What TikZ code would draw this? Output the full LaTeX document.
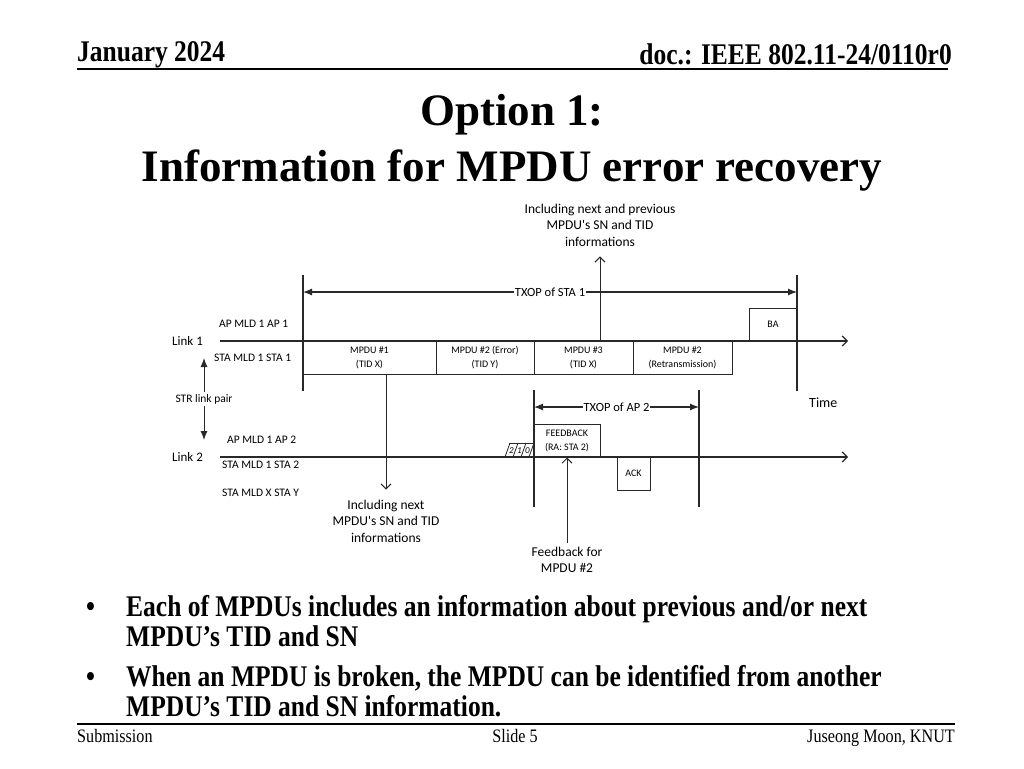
\documentclass[tikz,border=0pt]{standalone}
\usepackage{fontspec}
\setmainfont{Liberation Serif}
\newfontfamily\slidefont{Liberation Serif}[FakeStretch=0.85]
\newfontfamily\diagfont{Carlito}
\usetikzlibrary{
  arrows.meta,
  positioning,
  calc
}
\definecolor{line_gray}{RGB}{40, 40, 40}

\begin{document}
\begin{tikzpicture}[
    x=1pt, y=-1pt,
    >=Latex,
    % Styles
    hdr_text/.style={font=\slidefont\bfseries\fontsize{30}{32}\selectfont, inner sep=0pt},
    title_text/.style={font=\bfseries\fontsize{45}{54}\selectfont, anchor=base, inner sep=0pt},
    bullet_text/.style={font=\slidefont\bfseries\fontsize{30}{30}\selectfont, anchor=base west, inner sep=0pt},
    foot_text/.style={font=\slidefont\fontsize{19}{20}\selectfont, inner sep=0pt},
    rule_line/.style={line width=1.6pt},
    side_text/.style={font=\diagfont\fontsize{11.5}{13}\selectfont, anchor=west, inner sep=0pt},
    link_text/.style={font=\diagfont\fontsize{13}{15}\selectfont, anchor=west, inner sep=0pt},
    note_text/.style={font=\diagfont\fontsize{13.5}{16.5}\selectfont, align=center, inner sep=0pt},
    frame_box/.style={
        rectangle, draw=line_gray, line width=1pt, inner sep=0pt, align=center,
        minimum height=33pt, font=\diagfont\fontsize{10}{14}\selectfont
    },
    time_line/.style={draw=line_gray, line width=1.2pt, -{Straight Barb[length=5pt,width=10pt]}},
    mark_line/.style={draw=line_gray, line width=1.2pt},
    txop_arrow/.style={draw=line_gray, line width=1.2pt, {Latex[length=9pt,width=7pt]}-{Latex[length=9pt,width=7pt]}},
    note_arrow/.style={draw=line_gray, line width=1pt, -{Straight Barb[length=5pt,width=10pt]}},
    gap_label/.style={fill=white, inner sep=1pt, font=\diagfont\fontsize{12.5}{14}\selectfont},
    slot_digit/.style={font=\diagfont\itshape\fontsize{9}{10}\selectfont, inner sep=0pt}
]

\fill[white] (0,0) rectangle (1024,768);
\useasboundingbox (0,0) rectangle (1024,768);

% 1. HEADER
\node[hdr_text, anchor=base west] (date) at (77,62) {January 2024};
\node[hdr_text, anchor=base east] (docid) at (952,64) {doc.: IEEE 802.11-24/0110r0};
\draw[rule_line] (77,69) -- (948,69);

% 2. TITLE
\node[title_text] (title1) at (512,125) {Option 1:};
\node[title_text] (title2) at (512,181) {Information for MPDU error recovery};

% 3. TIME LINES
\coordinate (link1_start) at (220,341);
\coordinate (link1_end) at (848,341);
\coordinate (link2_start) at (220,457);
\coordinate (link2_end) at (848,457);

\node[side_text] (ap1) at (219,324) {AP MLD 1 AP 1};
\node[link_text] (link1) at (172,341) {Link 1};
\node[side_text] (sta1) at (214,358) {STA MLD 1 STA 1};
\node[side_text] (ap2) at (227,440) {AP MLD 1 AP 2};
\node[link_text] (link2) at (172,457) {Link 2};
\node[side_text] (sta2) at (222,465) {STA MLD 1 STA 2};
\node[side_text] (stay) at (222,493) {STA MLD X STA Y};
\node[link_text, font=\diagfont\fontsize{14}{16}\selectfont] (time) at (809,403) {Time};

% Link 1 frames
\node[frame_box, minimum width=133pt] (mpdu1) at (369.5,357.5) {MPDU \#1\\(TID X)};
\node[frame_box, minimum width=98pt] (mpdu2) at (485,357.5) {MPDU \#2 (Error)\\(TID Y)};
\node[frame_box, minimum width=99pt] (mpdu3) at (583.5,357.5) {MPDU \#3\\(TID X)};
\node[frame_box, minimum width=99pt] (mpdu2r) at (682.5,357.5) {MPDU \#2\\(Retransmission)};
\node[frame_box, minimum width=48pt] (ba) at (773,324.5) {BA};

% Link 2 frames
\node[frame_box, minimum width=66pt] (feedback) at (567,440.5) {FEEDBACK\\(RA: STA 2)};
\node[frame_box, minimum width=33pt] (ack) at (633.5,473.5) {ACK};

\draw[time_line] (link1_start) -- (link1_end);
\draw[time_line] (link2_start) -- (link2_end);

% Backoff slots
\draw[mark_line, line width=0.8pt] (509,443) -- (534,443);
\foreach \k in {0,...,3}
    \draw[mark_line, line width=0.8pt] (505+8*\k,457) -- (510+8*\k,443);
\foreach \d [count=\k from 0] in {2,1,0}
    \node[slot_digit] (slot\d) at (511.5+8*\k,450.5) {\d};

% 4. TXOP MARKERS
\coordinate (sta_txop_top) at (303,275);
\coordinate (sta_txop_bot) at (303,391);
\coordinate (sta_txop_end_top) at (797,275);
\coordinate (sta_txop_end_bot) at (797,391);
\coordinate (ap_txop_top) at (534,390);
\coordinate (ap_txop_bot) at (534,507);
\coordinate (ap_txop_end_top) at (699,390);
\coordinate (ap_txop_end_bot) at (699,507);

\draw[mark_line] (sta_txop_top) -- (sta_txop_bot);
\draw[mark_line] (sta_txop_end_top) -- (sta_txop_end_bot);
\draw[mark_line] (ap_txop_top) -- (ap_txop_bot);
\draw[mark_line] (ap_txop_end_top) -- (ap_txop_end_bot);

\draw[txop_arrow] ($(sta_txop_top)+(0,17)$) -- node[gap_label] (sta_txop) {TXOP of STA 1} ($(sta_txop_end_top)+(0,17)$);
\draw[txop_arrow] ($(ap_txop_top)+(0,17)$) -- node[gap_label] (ap_txop) {TXOP of AP 2} ($(ap_txop_end_top)+(0,17)$);

% STR link pair
\coordinate (str_top) at (204,358);
\coordinate (str_bot) at (204,440);
\draw[txop_arrow, line width=1pt] (str_top) -- node[gap_label, font=\diagfont\fontsize{11.5}{13}\selectfont, inner sep=2pt] (str_lbl) {STR link pair} (str_bot);

% 5. NOTES
\node[note_text] (note_prev) at (600,225) {Including next and previous\\MPDU's SN and TID\\informations};
\node[note_text] (note_next) at (386,521) {Including next\\MPDU's SN and TID\\informations};
\node[note_text] (note_fb) at (567,560) {Feedback for\\MPDU \#2};

\draw[note_arrow] (mpdu3.north -| note_prev) -- ([yshift=-10pt]note_prev.south);
\draw[note_arrow] (mpdu1.south -| note_next) -- ([yshift=10pt]note_next.north);
\draw[note_arrow] ([yshift=4pt]note_fb.north) -- (feedback.south);

% 6. BULLETS
\node[bullet_text] (dot1) at (86,616) {•};
\node[bullet_text] (item1) at (126,616) {Each of MPDUs includes an information about previous and/or next};
\node[bullet_text] (item1b) at (126,646) {MPDU’s TID and SN};
\node[bullet_text] (dot2) at (86,686) {•};
\node[bullet_text] (item2) at (126,686) {When an MPDU is broken, the MPDU can be identified from another};
\node[bullet_text] (item2b) at (126,716) {MPDU’s TID and SN information.};

% 7. FOOTER
\draw[rule_line] (77,724) -- (955,724);
\node[foot_text, anchor=base west] (submission) at (77,742) {Submission};
\node[foot_text, anchor=base] (slide) at (515,742) {Slide 5};
\node[foot_text, anchor=base east] (author) at (955,742) {Juseong Moon, KNUT};

\end{tikzpicture}
\end{document}
